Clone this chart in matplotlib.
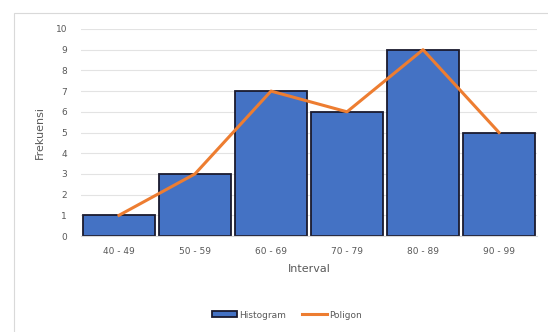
import matplotlib.pyplot as plt
from matplotlib.patches import Rectangle

intervals = ['40 - 49', '50 - 59', '60 - 69', '70 - 79', '80 - 89', '90 - 99']
frekuensi = [1, 3, 7, 6, 9, 5]

text_color = '#595959'
bar_color = '#4472C4'
line_color = '#ED7D31'

fig = plt.figure(figsize=(5.48, 3.32), dpi=100)
fig.patches.append(Rectangle((14 / 548, -0.1), 1.2, 1 - 13 / 332 + 0.1,
                             transform=fig.transFigure, fill=False,
                             edgecolor='#d9d9d9', linewidth=0.8))

ax = fig.add_axes([81 / 548, 1 - 236 / 332, 456 / 548, 207 / 332])
x = range(len(intervals))
bars = ax.bar(x, frekuensi, width=0.955, color=bar_color, edgecolor='#1a1a2e',
              linewidth=1.3, label='Histogram', zorder=2)
line, = ax.plot(x, frekuensi, color=line_color, linewidth=2.2, label='Poligon', zorder=3)

ax.set_xlim(-0.5, 5.5)
ax.set_ylim(0, 10)
ax.set_yticks(range(0, 11))
ax.set_xticks(list(x))
ax.set_xticklabels(intervals)
ax.tick_params(axis='both', length=0, labelsize=6.5, labelcolor=text_color)
ax.tick_params(axis='y', pad=10)
ax.tick_params(axis='x', pad=8)
ax.yaxis.grid(True, color='#e3e3e3', linewidth=0.8, zorder=0)
ax.set_axisbelow(True)
for side in ['top', 'right', 'left']:
    ax.spines[side].set_visible(False)
ax.spines['bottom'].set_color('#d9d9d9')

ax.set_ylabel('Frekuensi', fontsize=8, color=text_color, labelpad=8)
ax.set_xlabel('Interval', fontsize=8, color=text_color, labelpad=6)

fig.legend(handles=[bars, line], loc='center',
           bbox_to_anchor=(287 / 548, 1 - 315 / 332), ncol=2,
           frameon=False, fontsize=6.5, labelcolor=text_color,
           handlelength=2.8, handleheight=0.6, columnspacing=1.8, handletextpad=0.2)

fig.savefig('out.png', dpi=100)
